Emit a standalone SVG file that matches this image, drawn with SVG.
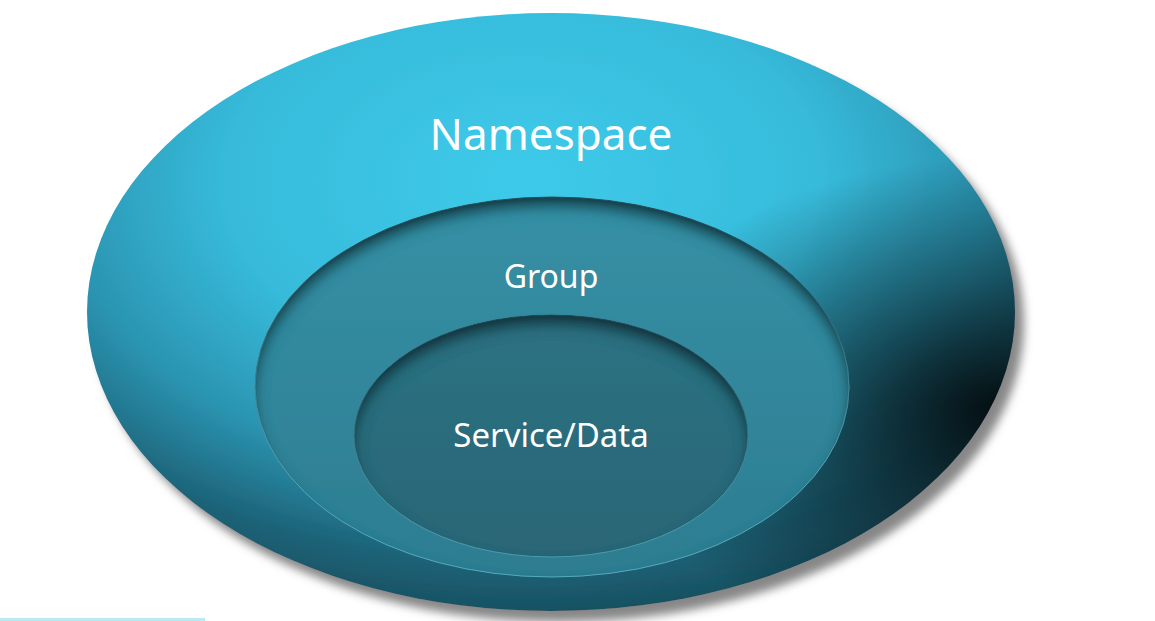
<svg xmlns="http://www.w3.org/2000/svg" width="1155" height="621" viewBox="0 0 1155 621">
<style>
.lbl{font-family:"Noto Sans","Open Sans","DejaVu Sans",sans-serif;fill:#ffffff;text-anchor:middle}
</style>
<defs>
<radialGradient id="gOuter" cx="0.47" cy="0.28" r="0.8">
<stop offset="0" stop-color="#3ecaea"/>
<stop offset="0.4" stop-color="#37bbdb"/>
<stop offset="0.62" stop-color="#2b95b2"/>
<stop offset="0.8" stop-color="#1d6378"/>
<stop offset="1" stop-color="#133f4c"/>
</radialGradient>
<radialGradient id="gDark" cx="0.98" cy="0.66" r="0.42">
<stop offset="0" stop-color="#000000" stop-opacity="0.85"/>
<stop offset="0.5" stop-color="#000000" stop-opacity="0.4"/>
<stop offset="1" stop-color="#000000" stop-opacity="0"/>
</radialGradient>
<linearGradient id="gMid" x1="0" y1="0" x2="0" y2="1">
<stop offset="0" stop-color="#3690a5"/>
<stop offset="1" stop-color="#2d7d91"/>
</linearGradient>
<linearGradient id="gIn" x1="0" y1="0" x2="0" y2="1">
<stop offset="0" stop-color="#2d7282"/>
<stop offset="1" stop-color="#296676"/>
</linearGradient>
<filter id="drop" x="-10%" y="-10%" width="125%" height="125%">
<feGaussianBlur in="SourceAlpha" stdDeviation="5"/>
<feOffset dx="9" dy="11" result="b"/>
<feFlood flood-color="#7a7a7a" flood-opacity="0.9"/>
<feComposite in2="b" operator="in" result="s"/>
<feMerge><feMergeNode in="s"/><feMergeNode in="SourceGraphic"/></feMerge>
</filter>
<filter id="inset" x="-5%" y="-5%" width="110%" height="110%">
<feOffset in="SourceAlpha" dx="0" dy="10"/>
<feGaussianBlur stdDeviation="7" result="b"/>
<feComposite in="SourceAlpha" in2="b" operator="out" result="rim"/>
<feFlood flood-color="#0c2830" flood-opacity="0.95"/>
<feComposite in2="rim" operator="in" result="sh"/>
<feMerge><feMergeNode in="SourceGraphic"/><feMergeNode in="sh"/></feMerge>
</filter>
</defs>
<rect width="1155" height="621" fill="#ffffff"/>
<g id="namespace">
<ellipse cx="551" cy="312" rx="464" ry="299" fill="url(#gOuter)" filter="url(#drop)"/>
<ellipse cx="551" cy="312" rx="464" ry="299" fill="url(#gDark)"/>
<text class="lbl" x="551" y="150" font-size="44">Namespace</text>
</g>
<g id="group">
<ellipse cx="552" cy="387" rx="297" ry="190" fill="url(#gMid)" stroke="#5aaec2" stroke-width="1" filter="url(#inset)"/>
<text class="lbl" x="551" y="288" font-size="32">Group</text>
</g>
<g id="service-data">
<ellipse cx="551" cy="436" rx="197" ry="121" fill="url(#gIn)" stroke="#4f9fb2" stroke-width="1" filter="url(#inset)"/>
<text class="lbl" x="551" y="447" font-size="33">Service/Data</text>
</g>
<rect x="0" y="618" width="205" height="3" fill="#bfe8f6"/>
</svg>
